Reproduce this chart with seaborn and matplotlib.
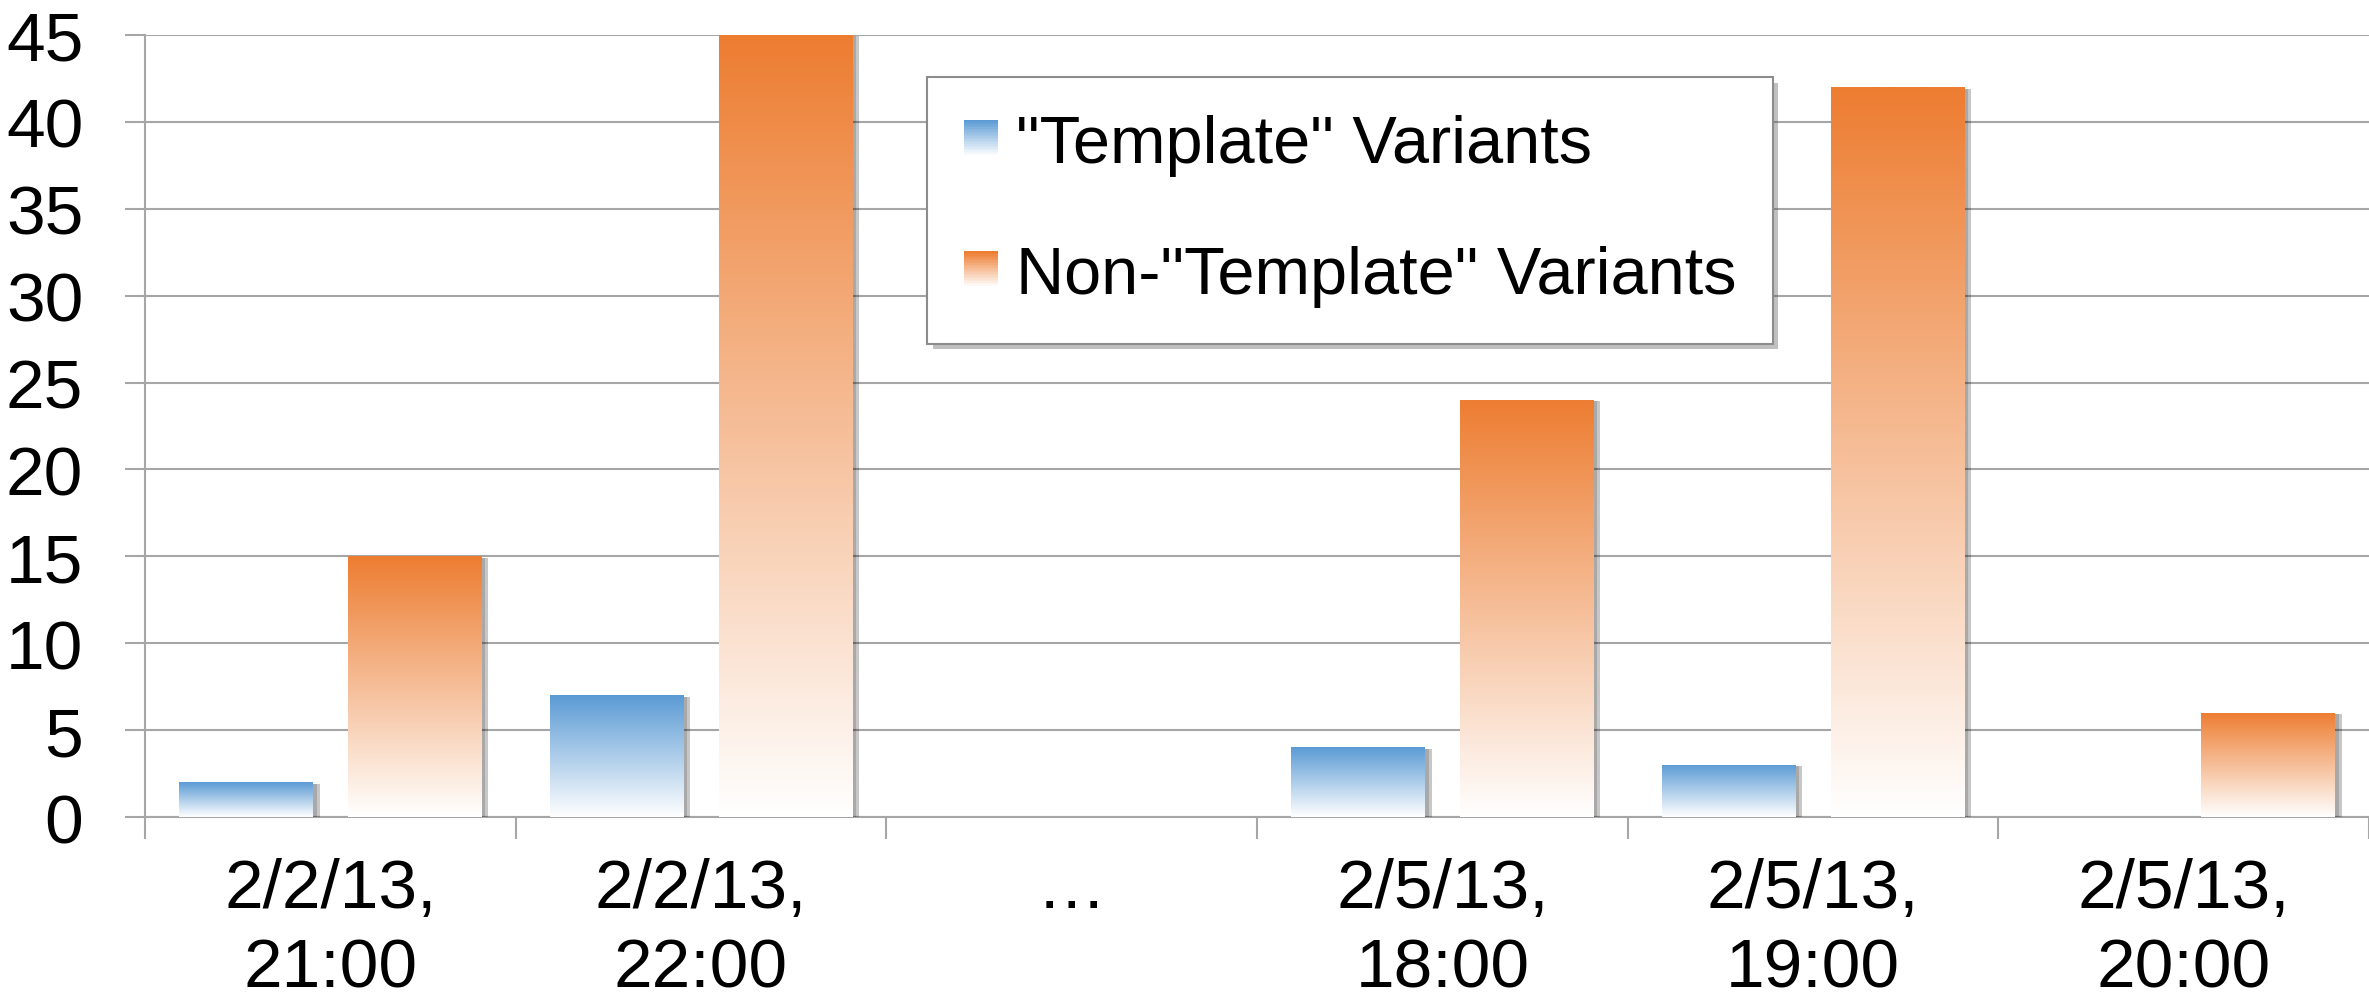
import numpy as np
import pandas as pd
import matplotlib
matplotlib.use("Agg")
import matplotlib.pyplot as plt
import seaborn as sns
from matplotlib import patheffects as pe
from matplotlib.colors import to_rgb
from matplotlib.legend_handler import HandlerPatch
from matplotlib.patches import Rectangle, Patch

# Data
categories = ["2/2/13,\n21:00", "2/2/13,\n22:00", "\u2026",
              "2/5/13,\n18:00", "2/5/13,\n19:00", "2/5/13,\n20:00"]
template_counts = [2, 7, 0, 4, 3, 0]
non_template_counts = [15, 45, 0, 24, 42, 6]
series_names = ['"Template" Variants', 'Non-"Template" Variants']
y_ticks = [0, 5, 10, 15, 20, 25, 30, 35, 40, 45]

BLUE = "#5B9BD5"
ORANGE = "#ED7D31"
GRID = "#A6A6A6"
FS = 50        # tick labels
LEG_FS = 48    # legend text

sns.set_style("white")
plt.rcParams["font.family"] = ["Liberation Sans", "DejaVu Sans"]
plt.rcParams["text.color"] = "black"
plt.rcParams["xtick.labelcolor"] = "black"
plt.rcParams["ytick.labelcolor"] = "black"


def gradient_rgb(color, n=256):
    # full colour at top, near white at bottom
    top = np.array(to_rgb(color))
    t = np.linspace(0, 1, n)[:, None]
    return 1 + (top - 1) * t


class GradientHandler(HandlerPatch):
    def create_artists(self, legend, orig_handle, xdescent, ydescent,
                       width, height, fontsize, trans):
        rows = gradient_rgb(orig_handle.get_facecolor(), 24)
        n = len(rows)
        arts = []
        for i, c in enumerate(rows):
            r = Rectangle((-xdescent, -ydescent + height * i / n), width,
                          height / n * 1.05, facecolor=c, edgecolor="none",
                          transform=trans)
            arts.append(r)
        return arts


df = pd.DataFrame({
    "time": categories * 2,
    "count": template_counts + non_template_counts,
    "series": [series_names[0]] * len(categories) + [series_names[1]] * len(categories),
})

fig = plt.figure(figsize=(23.69, 10.03), dpi=100)
ax = fig.add_axes([145 / 2369, 1 - 818 / 1003, 1 - 145 / 2369, (818 - 36) / 1003])

sns.barplot(data=df, x="time", y="count", hue="series", order=categories,
            hue_order=series_names, palette=[BLUE, ORANGE], saturation=1,
            width=0.91, gap=0.21, legend=False, ax=ax, zorder=3)

# gradient fill + soft drop shadow on every bar
for bar in list(ax.patches):
    h = bar.get_height()
    color = bar.get_facecolor()
    if h <= 0:
        bar.set_visible(False)
        continue
    bar.set_facecolor("white")
    bar.set_edgecolor("none")
    bar.set_path_effects([pe.SimplePatchShadow(offset=(5, -1), shadow_rgbFace="black", alpha=0.22),
                          pe.SimplePatchShadow(offset=(3, -1), shadow_rgbFace="black", alpha=0.15),
                          pe.Normal()])
    x, y, w = bar.get_x(), bar.get_y(), bar.get_width()
    img = gradient_rgb(color)[:, None, :]
    im = ax.imshow(img, extent=[x, x + w, y, y + h], origin="lower",
                   aspect="auto", interpolation="bilinear", zorder=3.5)
    im.set_clip_path(bar)

ax.set_xlim(-0.5, len(categories) - 0.5)
ax.set_ylim(0, 45)
ax.set_yticks(y_ticks)
ax.set_xticks(range(len(categories)))
ax.set_xticklabels(categories, fontsize=FS, linespacing=1.3)
ax.set_xticks(np.arange(-0.5, len(categories), 1.0), minor=True)
ax.tick_params(axis="y", labelsize=FS, length=14.4, width=1.5, color=GRID, pad=30, direction="out", left=True)
ax.tick_params(axis="x", which="major", length=0, pad=29)
ax.tick_params(axis="x", which="minor", length=16, width=1.5, color=GRID, direction="out", bottom=True)
ax.set_xlabel("")
ax.set_ylabel("")

ax.yaxis.grid(True, color=GRID, linewidth=1.5)
ax.set_axisbelow(True)
for side in ["top", "right"]:
    ax.spines[side].set_visible(False)
for side in ["left", "bottom"]:
    ax.spines[side].set_color(GRID)
    ax.spines[side].set_linewidth(1.5)

px = LEG_FS * 100 / 72  # legend em in pixels
handles = [Patch(facecolor=BLUE), Patch(facecolor=ORANGE)]
leg = ax.legend(handles, series_names, loc="upper left", bbox_to_anchor=(0.3516, 0.9463),
                borderaxespad=0, fontsize=LEG_FS, frameon=True, fancybox=False,
                framealpha=1, edgecolor="#8C8C8C", handlelength=34 / px,
                handleheight=31 / px, handletextpad=18 / px, labelspacing=1.04,
                borderpad=0.55, handler_map={Patch: GradientHandler()})
leg.get_frame().set_linewidth(1.5)
leg.get_frame().set_path_effects([pe.SimplePatchShadow(offset=(4, -4), alpha=0.35), pe.Normal()])
leg.set_zorder(5)

fig.savefig("out.png", dpi=100)
